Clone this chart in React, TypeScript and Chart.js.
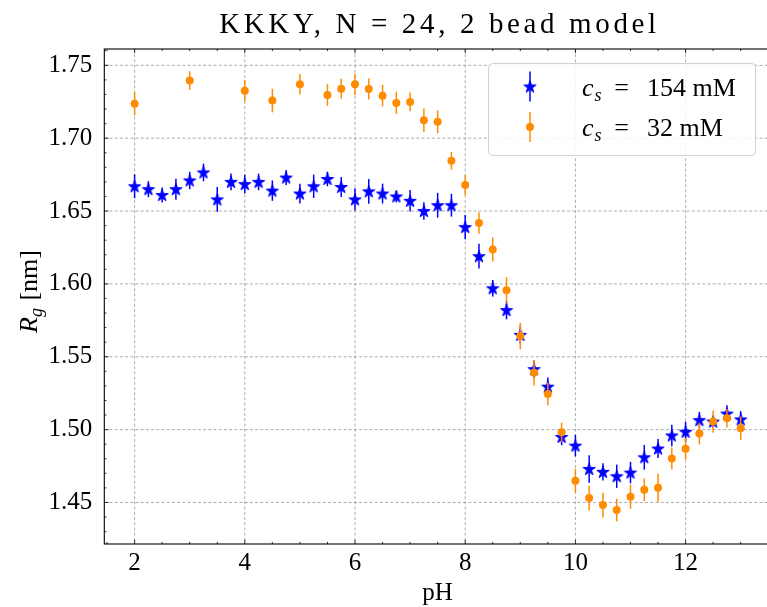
import React, { useEffect, useRef } from "react";
import { Chart, registerables } from "chart.js";

Chart.register(...registerables);

// ---------------- data ----------------
const bluePH = [2, 2.25, 2.5, 2.75, 3, 3.25, 3.5, 3.75, 4, 4.25, 4.5, 4.75, 5, 5.25, 5.5, 5.75, 6, 6.25, 6.5, 6.75, 7, 7.25, 7.5, 7.75, 8, 8.25, 8.5, 8.75, 9, 9.25, 9.5, 9.75, 10, 10.25, 10.5, 10.75, 11, 11.25, 11.5, 11.75, 12, 12.25, 12.5, 12.75, 13];
const blueRg = [1.667, 1.665, 1.661, 1.665, 1.671, 1.6765, 1.658, 1.670, 1.6685, 1.670, 1.664, 1.673, 1.662, 1.667, 1.672, 1.6665, 1.658, 1.6635, 1.662, 1.660, 1.657, 1.650, 1.654, 1.654, 1.639, 1.619, 1.597, 1.582, 1.565, 1.5415, 1.5295, 1.495, 1.489, 1.473, 1.471, 1.468, 1.4705, 1.481, 1.487, 1.496, 1.4985, 1.5065, 1.5055, 1.511, 1.507];
const blueErr = [0.0082, 0.0055, 0.0052, 0.0072, 0.006, 0.006, 0.0085, 0.0057, 0.0064, 0.0057, 0.007, 0.0051, 0.0068, 0.008, 0.005, 0.0068, 0.0076, 0.0085, 0.0068, 0.004, 0.0074, 0.006, 0.0085, 0.0078, 0.0083, 0.0085, 0.0057, 0.0063, 0.006, 0.006, 0.0063, 0.0057, 0.0074, 0.0094, 0.006, 0.008, 0.0074, 0.0085, 0.0065, 0.0074, 0.007, 0.0057, 0.004, 0.0057, 0.0057];

const orangePH = [2, 3, 4, 4.5, 5, 5.5, 5.75, 6, 6.25, 6.5, 6.75, 7, 7.25, 7.5, 7.75, 8, 8.25, 8.5, 8.75, 9, 9.25, 9.5, 9.75, 10, 10.25, 10.5, 10.75, 11, 11.25, 11.5, 11.75, 12, 12.25, 12.5, 12.75, 13];
const orangeRg = [1.7236, 1.7395, 1.7325, 1.7258, 1.737, 1.7297, 1.734, 1.737, 1.7338, 1.7292, 1.7242, 1.7249, 1.7123, 1.7112, 1.6845, 1.6678, 1.6418, 1.6236, 1.5957, 1.5642, 1.539, 1.5245, 1.4982, 1.4649, 1.453, 1.4482, 1.4448, 1.4539, 1.4587, 1.4601, 1.4802, 1.4868, 1.4973, 1.5055, 1.5078, 1.501];
const orangeErr = [0.008, 0.0064, 0.0073, 0.0081, 0.0071, 0.0074, 0.0068, 0.0073, 0.0072, 0.0074, 0.0076, 0.0065, 0.008, 0.0078, 0.006, 0.007, 0.0074, 0.0083, 0.009, 0.009, 0.0087, 0.0078, 0.0065, 0.0082, 0.0085, 0.0085, 0.0078, 0.0083, 0.0078, 0.0097, 0.0076, 0.0074, 0.0074, 0.0076, 0.0063, 0.008];

const xTicks = [2, 4, 6, 8, 10, 12];
const yTicks = [1.45, 1.5, 1.55, 1.6, 1.65, 1.7, 1.75];
const X_MIN = 1.45, X_MAX = 13.55, X_MINOR_STEP = 0.5;
const Y_MIN = 1.4215, Y_MAX = 1.7612, Y_MINOR_STEP = 0.01;

const titleText = "KKKY, N = 24, 2 bead model";
const xLabel = "pH";
const legendLabels = ["154 mM", "32 mM"];

const BLUE = "#0000ff";
const ORANGE = "#ff8c00";
const FONT = "'Liberation Serif', 'Times New Roman', serif";

function makeStar(color: string, rOuter: number): HTMLCanvasElement {
  const size = Math.ceil(rOuter) * 2 + 4;
  const c = document.createElement("canvas");
  c.width = size;
  c.height = size;
  const ctx = c.getContext("2d")!;
  const cx = size / 2, cy = size / 2 + 0.5;
  const rInner = rOuter * 0.381966;
  ctx.beginPath();
  for (let i = 0; i < 10; i++) {
    const r = i % 2 === 0 ? rOuter : rInner;
    const a = -Math.PI / 2 + (i * Math.PI) / 5;
    const px = cx + r * Math.cos(a), py = cy + r * Math.sin(a);
    if (i === 0) ctx.moveTo(px, py); else ctx.lineTo(px, py);
  }
  ctx.closePath();
  ctx.fillStyle = color;
  ctx.fill();
  ctx.lineWidth = 1;
  ctx.strokeStyle = color;
  ctx.stroke();
  return c;
}

export default function App() {
  const ref = useRef<HTMLCanvasElement | null>(null);

  useEffect(() => {
    const canvas = ref.current;
    if (!canvas) return;
    const star = makeStar(BLUE, 6.5);
    const errs = [blueErr, orangeErr];
    const colors = [BLUE, ORANGE];

    const decor = {
      id: "decor",
      beforeDatasetsDraw(chart: any) {
        const { ctx, chartArea: a, scales } = chart;
        const xs = scales.x, ys = scales.y;
        ctx.save();
        ctx.strokeStyle = "rgba(128,128,128,0.8)";
        ctx.lineWidth = 0.8;
        ctx.setLineDash([3, 2.2]);
        xTicks.forEach((v) => {
          const px = xs.getPixelForValue(v);
          ctx.beginPath();
          ctx.moveTo(px, a.top);
          ctx.lineTo(px, a.bottom);
          ctx.stroke();
        });
        yTicks.forEach((v) => {
          const py = ys.getPixelForValue(v);
          ctx.beginPath();
          ctx.moveTo(a.left, py);
          ctx.lineTo(a.right, py);
          ctx.stroke();
        });
        ctx.restore();
      },
      beforeDatasetDraw(chart: any, args: any) {
        const { ctx, scales } = chart;
        const i = args.index;
        const ds = chart.data.datasets[i];
        ctx.save();
        ctx.strokeStyle = colors[i];
        ctx.lineWidth = 1.5;
        ds.data.forEach((p: any, k: number) => {
          const px = scales.x.getPixelForValue(p.x);
          const y1 = scales.y.getPixelForValue(p.y - errs[i][k]);
          const y2 = scales.y.getPixelForValue(p.y + errs[i][k]);
          ctx.beginPath();
          ctx.moveTo(px, y1);
          ctx.lineTo(px, y2);
          ctx.stroke();
        });
        ctx.restore();
      },
      afterDatasetsDraw(chart: any) {
        const { ctx, chartArea: a, scales } = chart;
        const xs = scales.x, ys = scales.y;
        ctx.save();
        ctx.strokeStyle = "#000";
        ctx.lineWidth = 0.8;
        for (let v = Math.ceil(X_MIN / X_MINOR_STEP) * X_MINOR_STEP; v <= X_MAX + 1e-9; v += X_MINOR_STEP) {
          const major = xTicks.some((t) => Math.abs(t - v) < 1e-6);
          const L = major ? 4.2 : 2.1;
          const px = xs.getPixelForValue(v);
          ctx.beginPath();
          ctx.moveTo(px, a.bottom);
          ctx.lineTo(px, a.bottom - L);
          ctx.moveTo(px, a.top);
          ctx.lineTo(px, a.top + L);
          ctx.stroke();
        }
        for (let v = Math.ceil(Y_MIN / Y_MINOR_STEP) * Y_MINOR_STEP; v <= Y_MAX + 1e-9; v += Y_MINOR_STEP) {
          const major = yTicks.some((t) => Math.abs(t - v) < 1e-6);
          const L = major ? 4.2 : 2.1;
          const py = ys.getPixelForValue(v);
          ctx.beginPath();
          ctx.moveTo(a.left, py);
          ctx.lineTo(a.left + L, py);
          ctx.moveTo(a.right, py);
          ctx.lineTo(a.right - L, py);
          ctx.stroke();
        }
        ctx.lineWidth = 1.1;
        ctx.strokeRect(a.left, a.top, a.right - a.left, a.bottom - a.top);
        ctx.restore();
      },
      afterDraw(chart: any) {
        const { ctx, chartArea: a } = chart;
        const cx = (a.left + a.right) / 2;
        ctx.save();
        ctx.fillStyle = "#000";
        // title, stretched to the reference width
        ctx.font = `29px ${FONT}`;
        ctx.textAlign = "left";
        ctx.textBaseline = "alphabetic";
        const targetW = 437;
        const w0 = ctx.measureText(titleText).width;
        const ls = Math.max(0, (targetW - w0) / (titleText.length - 1));
        (ctx as any).letterSpacing = `${ls}px`;
        ctx.fillText(titleText, cx - targetW / 2, 33);
        (ctx as any).letterSpacing = "0px";
        // x label
        ctx.textAlign = "center";
        ctx.font = `25px ${FONT}`;
        ctx.fillText(xLabel, cx, 600);
        // y label: R_g [nm]
        ctx.save();
        const cy = (a.top + a.bottom) / 2 - 5;
        ctx.translate(37, cy);
        ctx.rotate(-Math.PI / 2);
        ctx.textAlign = "left";
        const fR = `italic 26px ${FONT}`;
        const fg = `italic 18px ${FONT}`;
        const fn = `26px ${FONT}`;
        ctx.font = fR; const wR = ctx.measureText("R").width;
        ctx.font = fg; const wg = ctx.measureText("g").width;
        ctx.font = fn; const wn = ctx.measureText(" [nm]").width;
        let x0 = -(wR + wg + 1 + wn) / 2;
        ctx.font = fR; ctx.fillText("R", x0, 0); x0 += wR;
        ctx.font = fg; ctx.fillText("g", x0, 5); x0 += wg + 1;
        ctx.font = fn; ctx.fillText(" [nm]", x0, 0);
        ctx.restore();

        // legend
        const lx = 488.5, ly = 63.5, lw = 267, lh = 92;
        ctx.save();
        ctx.beginPath();
        (ctx as any).roundRect(lx, ly, lw, lh, 4);
        ctx.fillStyle = "rgba(255,255,255,0.85)";
        ctx.fill();
        ctx.strokeStyle = "#d0d0d0";
        ctx.lineWidth = 1;
        ctx.stroke();
        ctx.restore();
        const rows = [
          { y: 86.5, color: BLUE, star: true, label: legendLabels[0] },
          { y: 127, color: ORANGE, star: false, label: legendLabels[1] },
        ];
        rows.forEach((r) => {
          ctx.save();
          ctx.strokeStyle = r.color;
          ctx.lineWidth = 1.5;
          ctx.beginPath();
          ctx.moveTo(530, r.y - 15);
          ctx.lineTo(530, r.y + 15);
          ctx.stroke();
          if (r.star) {
            ctx.drawImage(star, 530 - star.width / 2, r.y - star.height / 2);
          } else {
            ctx.fillStyle = r.color;
            ctx.beginPath();
            ctx.arc(530, r.y, 4, 0, Math.PI * 2);
            ctx.fill();
          }
          ctx.restore();
          const base = r.y + 9;
          ctx.fillStyle = "#000";
          ctx.textAlign = "left";
          ctx.font = `italic 26px ${FONT}`;
          ctx.fillText("c", 582, base);
          const wc = ctx.measureText("c").width;
          ctx.font = `italic 18px ${FONT}`;
          ctx.fillText("s", 582 + wc + 1, base + 5);
          ctx.font = `26px ${FONT}`;
          ctx.textAlign = "center";
          ctx.fillText("=", 621.5, base);
          ctx.textAlign = "left";
          ctx.fillText(r.label, 647, base);
        });
        ctx.restore();
      },
    };

    const chart = new Chart(canvas, {
      type: "scatter",
      data: {
        datasets: [
          {
            label: "c_s = 154 mM",
            data: bluePH.map((x, i) => ({ x, y: blueRg[i] })),
            pointStyle: star as any,
            pointRadius: 6.5,
            backgroundColor: BLUE,
            borderColor: BLUE,
            order: 2,
          },
          {
            label: "c_s = 32 mM",
            data: orangePH.map((x, i) => ({ x, y: orangeRg[i] })),
            pointStyle: "circle",
            pointRadius: 4,
            borderWidth: 0,
            backgroundColor: ORANGE,
            borderColor: ORANGE,
            order: 1,
          },
        ],
      },
      options: {
        responsive: false,
        animation: false,
        devicePixelRatio: 1,
        events: [],
        layout: { padding: { top: 49, right: 9, left: 0, bottom: 0 } },
        plugins: {
          legend: { display: false },
          title: { display: false },
          tooltip: { enabled: false },
        },
        scales: {
          x: {
            type: "linear",
            min: X_MIN,
            max: X_MAX,
            afterBuildTicks: (s: any) => {
              s.ticks = xTicks.map((v) => ({ value: v }));
            },
            afterFit: (s: any) => {
              s.height = 63;
            },
            grid: { display: false, drawTicks: false },
            border: { display: false },
            ticks: {
              font: { family: FONT, size: 25 },
              color: "#000",
              padding: 4,
              maxRotation: 0,
              autoSkip: false,
              callback: (v: any) => String(v),
            },
          },
          y: {
            type: "linear",
            min: Y_MIN,
            max: Y_MAX,
            afterBuildTicks: (s: any) => {
              s.ticks = yTicks.map((v) => ({ value: v }));
            },
            afterFit: (s: any) => {
              s.width = 104.3;
            },
            grid: { display: false, drawTicks: false },
            border: { display: false },
            ticks: {
              font: { family: FONT, size: 25 },
              color: "#000",
              padding: 12,
              autoSkip: false,
              callback: (v: any) => Number(v).toFixed(2),
            },
          },
        },
      },
      plugins: [decor],
    });
    return () => chart.destroy();
  }, []);

  return (
    <div style={{ position: "fixed", left: 0, top: 0, width: 780, height: 607, background: "#fff" }}>
      <canvas ref={ref} width={780} height={607} style={{ display: "block" }} />
    </div>
  );
}
